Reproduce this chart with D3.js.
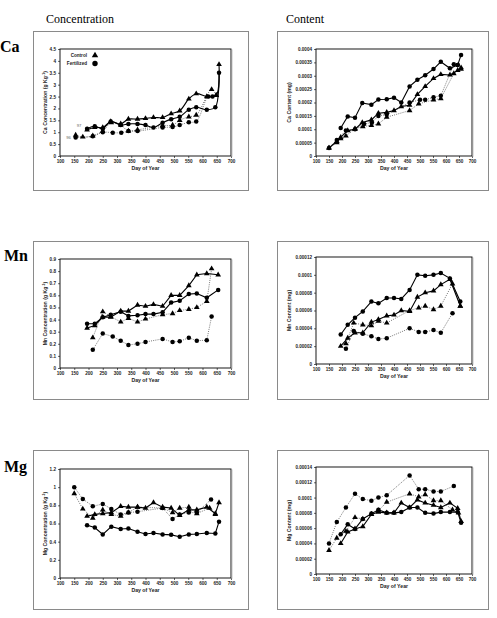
<!DOCTYPE html>
<html>
<head>
<meta charset="utf-8">
<script src="https://cdnjs.cloudflare.com/ajax/libs/d3/7.8.5/d3.min.js"></script>
<style>
  body { margin: 0; background: #fff; }
  svg { display: block; }
</style>
</head>
<body>
<div id="chart"></div>
<script>
// ---------- data: [day of year, value] ----------
const xTicks = [100, 150, 200, 250, 300, 350, 400, 450, 500, 550, 600, 650, 700];

// Ca concentration (g/kg)
const caConcControl97 = [[195,1.1],[222,1.2],[250,1.2],[278,1.45],[313,1.35],[340,1.55],[372,1.55],[400,1.58],[428,1.62],[460,1.62],[490,1.78],[520,1.9],[552,2.4],[578,2.62],[615,2.5],[648,2.55],[658,3.85]];
const caConcFert97 = [[195,1.15],[222,1.25],[250,1.15],[278,1.45],[313,1.3],[340,1.35],[372,1.35],[400,1.3],[428,1.2],[460,1.4],[490,1.55],[520,1.65],[552,1.95],[578,2.05],[615,1.95],[645,2.05],[658,3.5]];
const caConcControl96 = [[155,0.88],[180,0.8],[215,0.85],[250,1.05],[280,1.4],[313,1.3],[340,1.05],[372,1.1],[460,1.28],[495,1.3],[520,1.5],[552,1.65],[578,1.72],[632,2.8],[648,2.55]];
const caConcFert96 = [[155,0.78],[215,0.83],[250,1.0],[285,0.98],[315,0.98],[340,1.05],[372,1.05],[460,1.2],[495,1.22],[520,1.3],[552,1.42],[578,1.45],[620,2.5],[635,2.5]];

// Ca content (mg)
const caContControl97 = [[150,0.00003],[180,0.000055],[195,0.00007],[222,0.000095],[250,0.0001],[278,0.000125],[313,0.000135],[340,0.00016],[372,0.000163],[400,0.00017],[428,0.000185],[460,0.00019],[490,0.00023],[520,0.00026],[552,0.00029],[580,0.000305],[615,0.000303],[645,0.00032],[658,0.000325]];
const caContFert97 = [[195,0.000105],[222,0.000148],[250,0.000143],[278,0.000198],[313,0.000192],[340,0.000211],[372,0.000212],[400,0.000218],[428,0.0002],[460,0.00026],[490,0.000285],[520,0.000302],[552,0.000325],[580,0.000352],[615,0.000328],[645,0.00034],[658,0.000378]];
const caContControl96 = [[150,0.00003],[180,0.00005],[195,0.000065],[215,0.000075],[250,0.000102],[280,0.00011],[313,0.000115],[340,0.00012],[372,0.000145],[460,0.00017],[495,0.000195],[552,0.00021],[580,0.000215],[630,0.000308],[658,0.00033]];
const caContFert96 = [[150,0.00003],[180,0.00006],[215,0.000095],[250,0.0001],[285,0.00012],[315,0.000125],[340,0.00015],[372,0.000155],[460,0.0002],[500,0.00021],[520,0.00021],[552,0.00022],[580,0.000225],[630,0.000343],[645,0.00034]];

// Mn concentration (g/kg)
const mnConcControl97 = [[195,0.33],[222,0.35],[250,0.42],[278,0.42],[313,0.47],[340,0.47],[372,0.52],[400,0.51],[428,0.525],[460,0.51],[490,0.6],[520,0.6],[552,0.68],[580,0.77],[615,0.78],[655,0.77]];
const mnConcFert97 = [[195,0.365],[222,0.365],[250,0.42],[278,0.44],[313,0.465],[340,0.43],[372,0.435],[400,0.445],[428,0.445],[460,0.46],[490,0.54],[520,0.555],[552,0.61],[580,0.615],[615,0.58],[655,0.645]];
const mnConcControl96 = [[215,0.25],[250,0.465],[278,0.425],[313,0.38],[340,0.41],[372,0.38],[400,0.405],[460,0.44],[495,0.45],[520,0.475],[552,0.485],[580,0.5],[615,0.55],[632,0.82]];
const mnConcFert96 = [[215,0.15],[250,0.285],[285,0.26],[313,0.225],[340,0.19],[372,0.2],[400,0.215],[460,0.24],[495,0.215],[520,0.22],[552,0.25],[580,0.225],[615,0.23],[632,0.425]];

// Mn content (mg)
const mnContControl97 = [[195,0.00002],[222,0.000029],[250,0.000035],[280,0.000035],[313,0.000047],[340,0.00005],[372,0.000054],[400,0.000055],[428,0.00006],[460,0.000059],[490,0.000075],[520,0.00008],[552,0.000082],[580,0.000089],[615,0.000095],[655,0.000065]];
const mnContFert97 = [[195,0.000033],[222,0.000044],[250,0.000052],[280,0.000059],[313,0.00007],[340,0.000068],[372,0.000074],[400,0.000074],[428,0.000073],[460,0.000083],[490,0.0001],[520,0.000099],[552,0.0001],[580,0.000102],[615,0.000096],[655,0.00007]];
const mnContControl96 = [[215,0.000023],[245,0.000046],[280,0.000044],[313,0.000043],[340,0.000048],[372,0.000046],[460,0.00006],[495,0.000063],[520,0.000065],[552,0.000061],[580,0.000065],[625,0.00009],[655,0.000065]];
const mnContFert96 = [[215,0.000017],[245,0.000037],[280,0.000034],[313,0.000031],[340,0.000028],[372,0.000029],[460,0.00004],[495,0.000036],[520,0.000036],[552,0.000038],[580,0.000035],[625,0.000057]];

// Mg concentration (g/kg)
const mgConcControl97 = [[195,0.68],[222,0.7],[250,0.71],[280,0.72],[313,0.79],[340,0.78],[372,0.78],[400,0.77],[428,0.83],[460,0.78],[490,0.77],[520,0.69],[552,0.75],[580,0.75],[615,0.78],[645,0.71],[658,0.83]];
const mgConcFert97 = [[195,0.58],[222,0.555],[250,0.48],[280,0.565],[313,0.54],[340,0.545],[372,0.51],[400,0.485],[428,0.495],[460,0.48],[490,0.475],[520,0.455],[552,0.48],[580,0.485],[615,0.495],[645,0.49],[658,0.62]];
const mgConcControl96 = [[150,0.93],[180,0.76],[215,0.66],[250,0.75],[280,0.7],[313,0.68],[340,0.72],[372,0.78],[460,0.77],[495,0.72],[520,0.77],[552,0.78],[580,0.71],[625,0.77],[645,0.7]];
const mgConcFert96 = [[150,1.0],[180,0.87],[215,0.79],[250,0.815],[280,0.76],[313,0.7],[340,0.72],[372,0.73],[460,0.77],[495,0.65],[520,0.7],[552,0.72],[580,0.72],[630,0.865]];

// Mg content (mg)
const mgContControl97 = [[195,0.00004],[222,0.000055],[250,0.000059],[280,0.000062],[313,0.000078],[340,0.000081],[372,0.00008],[400,0.00008],[428,0.000093],[460,0.000087],[490,0.000097],[520,0.000093],[552,0.00009],[580,0.000087],[615,0.000093],[645,0.000086],[658,0.000069]];
const mgContFert97 = [[195,0.000052],[222,0.000065],[250,0.000059],[280,0.000072],[313,0.000079],[340,0.000084],[372,0.00008],[400,0.00008],[428,0.000081],[460,0.000087],[490,0.000087],[520,0.00008],[552,0.000079],[580,0.000081],[615,0.000081],[645,0.000081],[658,0.000067]];
const mgContControl96 = [[150,0.000031],[180,0.000047],[215,0.000056],[250,0.000074],[280,0.000072],[313,0.000078],[340,0.000083],[372,0.000094],[460,0.000105],[495,0.000101],[520,0.000104],[552,0.000096],[580,0.000096],[625,0.000084],[648,0.00008]];
const mgContFert96 = [[150,0.00004],[180,0.000068],[215,0.000087],[250,0.000105],[280,0.000098],[313,0.000096],[340,0.0001],[372,0.000103],[460,0.000129],[495,0.000111],[520,0.000111],[552,0.000108],[580,0.000108],[630,0.000115]];

// ---------- layout ----------
const W = 497, H = 618;
const svg = d3.select("#chart").append("svg")
    .attr("width", W).attr("height", H)
    .attr("viewBox", `0 0 ${W} ${H}`);

const cols = [
    { box: [33, 215], plot: [60, 231], titleDx: -13 },
    { box: [277, 211], plot: [316, 472], titleDx: -25 }
];
const rows = [
    { box: [31, 159], plot: [[49, 156], [49, 156]] },
    { box: [241, 158], plot: [[259, 368], [257, 364]] },
    { box: [450, 159], plot: [[469, 578], [467, 574]] }
];

const panels = [
    { r: 0, c: 0, el: "Ca", kind: "conc", yMax: 4.5, yStep: 0.5, smooth: true, legend: true, years: true,
      series: [caConcControl96, caConcFert96, caConcControl97, caConcFert97] },
    { r: 0, c: 1, el: "Ca", kind: "cont", yMax: 0.0004, yStep: 0.00005,
      series: [caContControl96, caContFert96, caContControl97, caContFert97] },
    { r: 1, c: 0, el: "Mn", kind: "conc", yMax: 0.9, yStep: 0.1,
      series: [mnConcControl96, mnConcFert96, mnConcControl97, mnConcFert97] },
    { r: 1, c: 1, el: "Mn", kind: "cont", yMax: 0.00012, yStep: 0.00002,
      series: [mnContControl96, mnContFert96, mnContControl97, mnContFert97] },
    { r: 2, c: 0, el: "Mg", kind: "conc", yMax: 1.2, yStep: 0.2,
      series: [mgConcControl96, mgConcFert96, mgConcControl97, mgConcFert97] },
    { r: 2, c: 1, el: "Mg", kind: "cont", yMax: 0.00014, yStep: 0.00002,
      series: [mgContControl96, mgContFert96, mgContControl97, mgContFert97] }
];

// style per series index: 96 dotted, 97 solid; control = triangle, fertilized = circle
const seriesStyle = [
    { dash: "1,1.2", width: 0.8, color: "#555", shape: "tri" },
    { dash: "1,1.2", width: 0.8, color: "#555", shape: "circ" },
    { dash: null, width: 1.1, color: "#000", shape: "tri" },
    { dash: null, width: 1.1, color: "#000", shape: "circ" }
];

const tickFont = "Arial, 'Liberation Sans', sans-serif";

// column titles
svg.append("text").attr("x", 46).attr("y", 23)
    .attr("font-family", "'Liberation Serif', 'Times New Roman', serif")
    .attr("font-size", "12px").text("Concentration");
svg.append("text").attr("x", 286).attr("y", 23)
    .attr("font-family", "'Liberation Serif', 'Times New Roman', serif")
    .attr("font-size", "12px").text("Content");

// row labels
[["Ca", 0, 52], ["Mn", 4, 261], ["Mg", 4, 472]].forEach(([t, x, y]) => {
    svg.append("text").attr("x", x).attr("y", y)
        .attr("font-family", "'Liberation Serif', 'Times New Roman', serif")
        .attr("font-weight", "bold").attr("font-size", "16px").text(t);
});

const marker = (sel, shape) => {
    if (shape === "tri") {
        sel.append("path").attr("d", d3.symbol(d3.symbolTriangle, 14)());
    } else {
        sel.append("circle").attr("r", 2.25);
    }
};

panels.forEach(p => {
    const col = cols[p.c], row = rows[p.r];
    const [py0, py1] = row.plot[p.c];
    const [px0, px1] = col.plot;
    const w = px1 - px0, h = py1 - py0;

    // outer box
    svg.append("rect")
        .attr("x", col.box[0] + 0.5).attr("y", row.box[0] + 0.5)
        .attr("width", col.box[1]).attr("height", row.box[1])
        .attr("fill", "none").attr("stroke", "#8a8a8a").attr("stroke-width", 1);

    const g = svg.append("g").attr("transform", `translate(${px0},${py0})`);

    const x = d3.scaleLinear().domain([100, 700]).range([0, w]);
    const y = d3.scaleLinear().domain([0, p.yMax]).range([h, 0]);
    const n = Math.round(p.yMax / p.yStep);
    const yTicks = d3.range(n + 1).map(i => +(i * p.yStep).toFixed(7));

    const xAxis = g.append("g").attr("transform", `translate(0,${h})`)
        .call(d3.axisBottom(x).tickValues(xTicks).tickSize(2).tickSizeOuter(0).tickPadding(2));
    const yAxis = g.append("g")
        .call(d3.axisLeft(y).tickValues(yTicks).tickSize(2).tickSizeOuter(0).tickPadding(2)
            .tickFormat(v => String(v)));
    [xAxis, yAxis].forEach(a => {
        a.select(".domain").remove();
        a.selectAll("line").attr("stroke", "#000").attr("stroke-width", 0.6);
        a.selectAll("text").attr("font-family", tickFont).attr("font-size", "4.6px")
            .attr("font-weight", "bold").attr("fill", "#222");
    });

    // plot frame
    g.append("rect").attr("x", 0).attr("y", 0).attr("width", w).attr("height", h)
        .attr("fill", "none").attr("stroke", "#000").attr("stroke-width", 0.9);
    g.append("line").attr("x1", w + 0.8).attr("x2", w + 0.8).attr("y1", 0.5).attr("y2", h + 0.8)
        .attr("stroke", "#999").attr("stroke-width", 1);

    // axis titles
    g.append("text").attr("x", w / 2).attr("y", h + 14).attr("text-anchor", "middle")
        .attr("font-family", tickFont).attr("font-size", "5.2px").attr("font-weight", "bold")
        .attr("fill", "#222").text("Day of Year");

    const yt = g.append("text")
        .attr("transform", `translate(${col.titleDx},${h / 2}) rotate(-90)`)
        .attr("text-anchor", "middle")
        .attr("font-family", tickFont).attr("font-size", "5.2px").attr("font-weight", "bold")
        .attr("fill", "#222");
    if (p.kind === "conc") {
        yt.append("tspan").text(`${p.el} Concentration (g Kg`);
        yt.append("tspan").attr("dy", -2).attr("font-size", "3.6px").text("-1");
        yt.append("tspan").attr("dy", 2).text(")");
    } else {
        yt.text(`${p.el} Content (mg)`);
    }

    // lines and markers
    const line = d3.line().x(d => x(d[0])).y(d => y(d[1]))
        .curve(p.smooth ? d3.curveCatmullRom.alpha(0.5) : d3.curveLinear);

    p.series.forEach((data, i) => {
        const s = seriesStyle[i];
        g.append("path").datum(data)
            .attr("d", line)
            .attr("fill", "none")
            .attr("stroke", s.color)
            .attr("stroke-width", s.width)
            .attr("stroke-dasharray", s.dash);
    });
    p.series.forEach((data, i) => {
        const s = seriesStyle[i];
        const pts = g.append("g").selectAll("g").data(data).join("g")
            .attr("transform", d => `translate(${x(d[0])},${y(d[1])})`)
            .attr("fill", "#000");
        marker(pts, s.shape);
    });

    if (p.legend) {
        const lg = g.append("g").attr("font-family", tickFont).attr("font-size", "4.6px")
            .attr("font-weight", "bold").attr("fill", "#222");
        const items = [["Control", "tri", 6.5], ["Fertilized", "circ", 14.5]];
        items.forEach(([t, shape, yy]) => {
            lg.append("text").attr("x", 27).attr("y", yy + 1.6).attr("text-anchor", "end").text(t);
            const m = lg.append("g").attr("transform", `translate(35,${yy})`).attr("fill", "#000");
            if (shape === "tri") m.append("path").attr("d", d3.symbol(d3.symbolTriangle, 18)());
            else m.append("circle").attr("r", 2.7);
        });
    }
    if (p.years) {
        g.append("text").attr("x", x(167)).attr("y", y(1.22)).attr("text-anchor", "middle")
            .attr("font-family", tickFont).attr("font-size", "4.2px").attr("fill", "#666").text("97");
        g.append("text").attr("x", x(130)).attr("y", y(0.72)).attr("text-anchor", "middle")
            .attr("font-family", tickFont).attr("font-size", "4.2px").attr("fill", "#666").text("96");
    }
});
</script>
</body>
</html>
